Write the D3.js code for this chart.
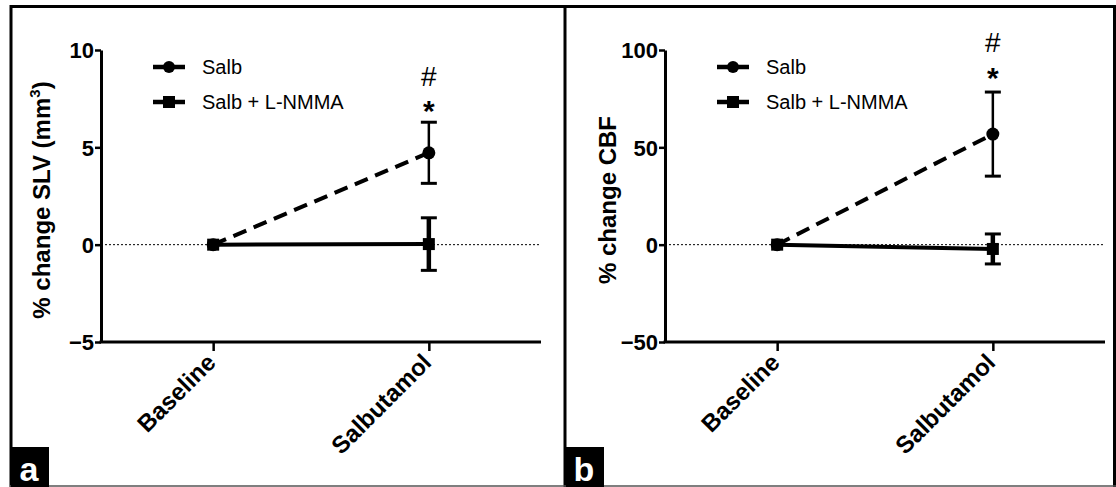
<!DOCTYPE html>
<html>
<head>
<meta charset="utf-8">
<script src="https://cdn.jsdelivr.net/npm/d3@7"></script>
<style>
  html, body { margin: 0; padding: 0; background: #fff; }
  svg { display: block; }
  text { font-family: "Liberation Sans", Arial, sans-serif; fill: #000; }
</style>
</head>
<body>
<svg id="chart" width="1116" height="487"></svg>
<script>
// Time points on the x axis
const categories = ["Baseline", "Salbutamol"];

// Panel a: % change in SLV (mean and SEM)
const slvSalbMean = [0, 4.72];
const slvSalbErr  = [0, 1.57];
const slvNmmaMean = [0, 0.03];
const slvNmmaErr  = [0, 1.35];
const slvTicks = [-5, 0, 5, 10];

// Panel b: % change in CBF (mean and SEM)
const cbfSalbMean = [0, 56.8];
const cbfSalbErr  = [0, 21.6];
const cbfNmmaMean = [0, -2.2];
const cbfNmmaErr  = [0, 7.7];
const cbfTicks = [-50, 0, 50, 100];

const seriesNames = ["Salb", "Salb + L-NMMA"];
const panelLetters = ["a", "b"];

const svg = d3.select("#chart");

// Outer frame and the divider between the two panels
const frame = svg.append("g").attr("stroke", "#000").attr("fill", "none");
frame.append("line").attr("x1", 10).attr("x2", 1116).attr("y1", 6.5).attr("y2", 6.5).attr("stroke-width", 3);
frame.append("line").attr("x1", 11).attr("x2", 11).attr("y1", 5).attr("y2", 487).attr("stroke-width", 3);
frame.append("line").attr("x1", 565).attr("x2", 565).attr("y1", 5).attr("y2", 487).attr("stroke-width", 3);
frame.append("line").attr("x1", 1114.5).attr("x2", 1114.5).attr("y1", 5).attr("y2", 487).attr("stroke-width", 3);
frame.append("line").attr("x1", 10).attr("x2", 1116).attr("y1", 486).attr("y2", 486).attr("stroke-width", 1.5).attr("stroke", "#555");

function drawPanel(opt) {
  const g = svg.append("g").attr("transform", `translate(${opt.dx},0)`);
  const left = 101, right = 541, top = 50, bottom = 342;

  const x = d3.scalePoint().domain(categories).range([left, right]).padding(0.52);
  const y = d3.scaleLinear().domain(opt.domain).range([bottom, top]);

  // Dotted zero reference line
  g.append("line")
    .attr("x1", left).attr("x2", right)
    .attr("y1", y(0)).attr("y2", y(0))
    .attr("stroke", "#000").attr("stroke-width", 1)
    .attr("stroke-dasharray", "2,2");

  // Y axis
  const yAxis = g.append("g")
    .attr("transform", `translate(${left},0)`)
    .call(d3.axisLeft(y).tickValues(opt.ticks).tickSize(6).tickSizeOuter(0).tickFormat(d3.format("d")));
  yAxis.select(".domain").attr("stroke-width", 3);
  yAxis.selectAll(".tick line").attr("stroke-width", 2.5);
  yAxis.selectAll(".tick text")
    .attr("font-size", 22).attr("font-weight", "bold")
    .attr("font-family", "Liberation Sans, Arial, sans-serif")
    .attr("x", -7).attr("dy", "0.36em");

  // X axis
  const xAxis = g.append("g")
    .attr("transform", `translate(0,${bottom})`)
    .call(d3.axisBottom(x).tickSize(9).tickSizeOuter(0).tickFormat(""));
  xAxis.select(".domain").attr("stroke-width", 3)
    .attr("d", `M${left - 1.5},0H${right}`);
  xAxis.selectAll(".tick line").attr("stroke-width", 2.5);

  // Rotated category labels
  g.selectAll(".xlab").data(categories).join("text")
    .attr("class", "xlab")
    .attr("transform", d => `translate(${x(d) + 4},${bottom + 22}) rotate(-45)`)
    .attr("text-anchor", "end")
    .attr("font-size", 24).attr("font-weight", "bold")
    .text(d => d);

  // Y axis title
  const title = g.append("text")
    .attr("transform", `translate(${opt.titleX},${(top + bottom) / 2 + 4}) rotate(-90)`)
    .attr("text-anchor", "middle")
    .attr("font-size", 24).attr("font-weight", "bold");
  title.append("tspan").text(opt.title);
  if (opt.sup) {
    title.append("tspan").attr("font-size", 15).attr("dy", -10).text(opt.sup);
    title.append("tspan").attr("dy", 10).text(")");
  }

  const series = [
    { name: seriesNames[0], mean: opt.salbMean, err: opt.salbErr, dash: "14,8", barW: 2.5, shape: "circle" },
    { name: seriesNames[1], mean: opt.nmmaMean, err: opt.nmmaErr, dash: null, barW: 4.5, shape: "square" }
  ];

  // Error bars (drawn for the non-zero time point)
  series.forEach(s => {
    categories.forEach((c, i) => {
      if (s.err[i] <= 0) return;
      const cx = x(c);
      const y1 = y(s.mean[i] + s.err[i]);
      const y2 = y(s.mean[i] - s.err[i]);
      const eb = g.append("g").attr("stroke", "#000").attr("stroke-width", s.barW);
      eb.append("line").attr("x1", cx).attr("x2", cx).attr("y1", y1).attr("y2", y2);
      eb.append("line").attr("x1", cx - 8).attr("x2", cx + 8).attr("y1", y1).attr("y2", y1).attr("stroke-width", 3);
      eb.append("line").attr("x1", cx - 8).attr("x2", cx + 8).attr("y1", y2).attr("y2", y2).attr("stroke-width", 3);
    });
  });

  // Connecting lines
  const line = d3.line().x((d, i) => x(categories[i])).y(d => y(d));
  series.forEach(s => {
    g.append("path")
      .attr("d", line(s.mean))
      .attr("fill", "none").attr("stroke", "#000").attr("stroke-width", 4)
      .attr("stroke-dasharray", s.dash);
  });

  // Markers
  series.forEach(s => {
    s.mean.forEach((v, i) => {
      const cx = x(categories[i]), cy = y(v);
      if (s.shape === "circle") {
        g.append("circle").attr("cx", cx).attr("cy", cy).attr("r", 6.5).attr("fill", "#000");
      } else {
        g.append("rect").attr("x", cx - 6).attr("y", cy - 6).attr("width", 12).attr("height", 12).attr("fill", "#000");
      }
    });
  });

  // Significance markers above the Salb point
  const sx = x(categories[1]);
  g.append("text").attr("x", sx).attr("y", opt.hashY).attr("text-anchor", "middle")
    .attr("font-size", 28).text("#");
  g.append("text").attr("x", sx).attr("y", opt.starY).attr("text-anchor", "middle")
    .attr("font-size", 30).attr("font-weight", "bold").text("*");

  // Legend
  const lg = g.append("g");
  series.forEach((s, i) => {
    const ly = 67 + i * 35;
    lg.append("line").attr("x1", 153).attr("x2", 185).attr("y1", ly).attr("y2", ly)
      .attr("stroke", "#000").attr("stroke-width", 4.5);
    if (s.shape === "circle") {
      lg.append("circle").attr("cx", 169).attr("cy", ly).attr("r", 6).attr("fill", "#000");
    } else {
      lg.append("rect").attr("x", 163).attr("y", ly - 6).attr("width", 12).attr("height", 12).attr("fill", "#000");
    }
    lg.append("text").attr("x", 202).attr("y", ly + 7).attr("font-size", 20).text(s.name);
  });

  // Panel letter box
  g.append("rect").attr("x", opt.letterX).attr("y", 447).attr("width", 38).attr("height", 40).attr("fill", "#000");
  g.append("text").attr("x", opt.letterX + 18).attr("y", 481).attr("text-anchor", "middle")
    .attr("font-size", 34).attr("font-weight", "bold").style("fill", "#fff").text(opt.letter);
}

drawPanel({
  dx: 0, domain: [-5, 10], ticks: slvTicks,
  title: "% change SLV (mm", sup: "3", titleX: 50,
  salbMean: slvSalbMean, salbErr: slvSalbErr, nmmaMean: slvNmmaMean, nmmaErr: slvNmmaErr,
  hashY: 86, starY: 121, letter: panelLetters[0], letterX: 11
});

drawPanel({
  dx: 564, domain: [-50, 100], ticks: cbfTicks,
  title: "% change CBF", sup: null, titleX: 52,
  salbMean: cbfSalbMean, salbErr: cbfSalbErr, nmmaMean: cbfNmmaMean, nmmaErr: cbfNmmaErr,
  hashY: 52, starY: 88, letter: panelLetters[1], letterX: 2
});
</script>
</body>
</html>
